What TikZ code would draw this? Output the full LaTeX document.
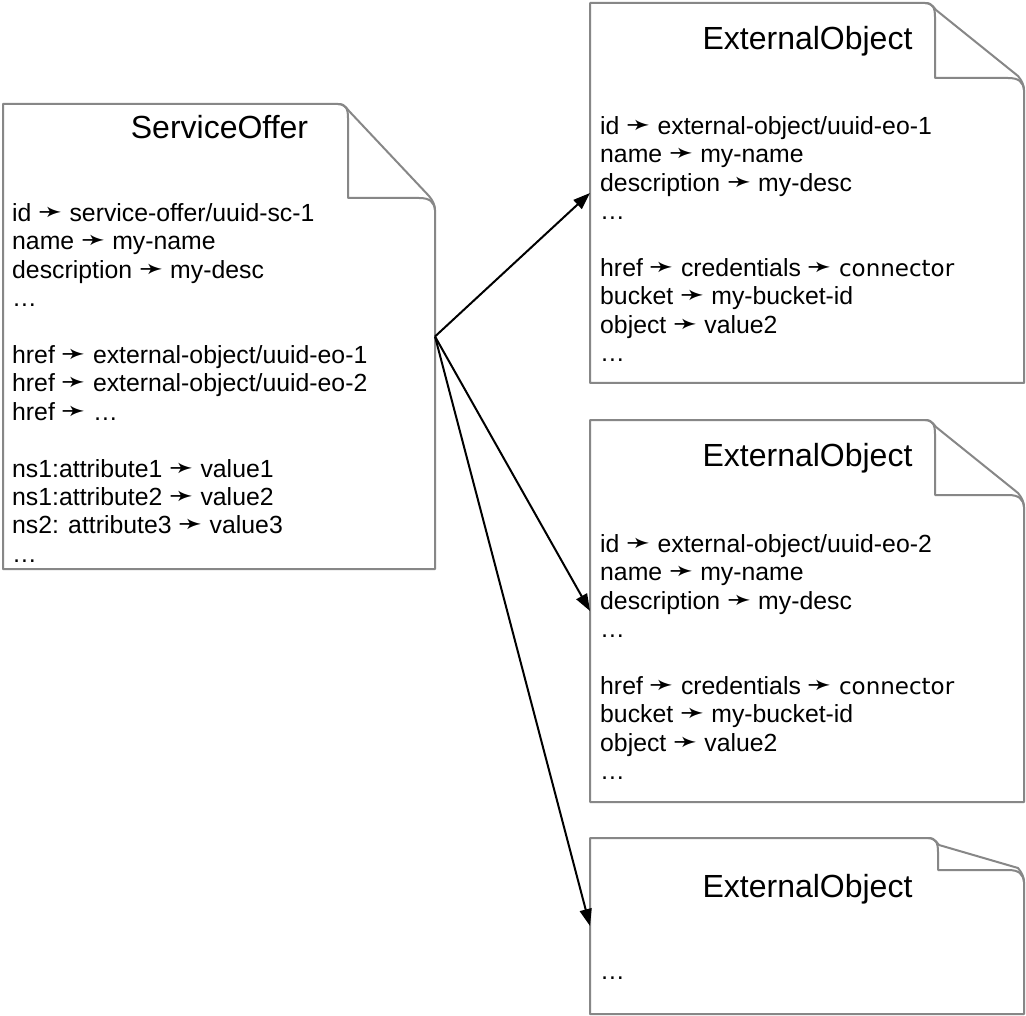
\documentclass[tikz,border=0pt]{standalone}
\usepackage{fontspec}
\setmainfont{Liberation Sans}
\newfontfamily\dvfont{DejaVu Sans}
\usetikzlibrary{arrows.meta}
\newcommand\myarr{{\dvfont\fontsize{29}{24}\selectfont ➛}}
\newcommand\conn{{\dvfont\fontsize{23}{28}\selectfont connector}}
\newcommand\docshape[7]{%
  \node[docnode, minimum width={(#4-#2)*1pt}, minimum height={(#5-#3)*1pt}] (#1) at ({(#2+#4)/2},{(#3+#5)/2}) {};
  \pgfmathsetmacro\dfx{#4-#6}%
  \pgfmathsetmacro\dfy{#3+#7}%
  \draw[docline] (#2,#5) -- (#2,#3) -- (\dfx,#3)
    .. controls (\dfx+5,#3) and (\dfx+8,#3+3) .. (\dfx+11,#3+7)
    -- (#4-6,\dfy-14)
    .. controls (#4-2,\dfy-9) and (#4,\dfy-5) .. (#4,\dfy)
    -- (#4,#5) -- cycle;
  \draw[docline] (\dfx,#3)
    .. controls (\dfx+8,#3) and (\dfx+10,#3+5) .. (\dfx+10,#3+14)
    -- (\dfx+10,\dfy-12) -- (#4-16,\dfy-12)
    .. controls (#4-5,\dfy-12) and (#4-1,\dfy-8) .. (#4,\dfy);
}
\tikzset{
  docnode/.style={inner sep=0pt, outer sep=0pt, draw=none},
  docline/.style={draw=black!47, line width=2pt, line join=round},
  body/.style={anchor=base west, inner sep=0pt, font=\fontsize{24.8}{28.4}\selectfont},
  title/.style={anchor=base, inner sep=0pt, font=\fontsize{32}{36}\selectfont},
  link/.style={line width=2pt, -{Triangle[length=17pt,width=12pt]}}
}
\begin{document}
\begin{tikzpicture}[x=1pt,y=-1pt]
\useasboundingbox (0,0) rectangle (1026,1016);
\fill[white] (0,0) rectangle (1026,1016);

\docshape{so}{3}{104}{435}{569}{97}{106}
\docshape{eoa}{590}{3}{1024}{383}{99}{87}
\docshape{eob}{590}{420}{1024}{802}{99}{87}
\docshape{eoc}{590}{838}{1024}{1014}{96}{44}

% ServiceOffer
\node[title] (so-t) at (219.5,138.5) {ServiceOffer};
\node[body] (so-1) at (12,221.5) {id \myarr{} service-offer/uuid-sc-1};
\node[body] (so-2) at (12,249.9) {name \myarr{} my-name};
\node[body] (so-3) at (12,278.3) {description \myarr{} my-desc};
\node[body] (so-4) at (12,306.7) {…};
\node[body] (so-5) at (12,363.5) {href \myarr{} external-object/uuid-eo-1};
\node[body] (so-6) at (12,391.9) {href \myarr{} external-object/uuid-eo-2};
\node[body] (so-7) at (12,420.3) {href \myarr{} …};
\node[body] (so-8) at (12,477.1) {ns1:attribute1 \myarr{} value1};
\node[body] (so-9) at (12,505.5) {ns1:attribute2 \myarr{} value2};
\node[body] (so-10) at (12,533.9) {ns2: attribute3 \myarr{} value3};
\node[body] (so-11) at (12,562.3) {…};

% ExternalObject 1
\node[title] (eoa-t) at (807.5,49.5) {ExternalObject};
\node[body] (eoa-1) at (600,134.3) {id \myarr{} external-object/uuid-eo-1};
\node[body] (eoa-2) at (600,162.7) {name \myarr{} my-name};
\node[body] (eoa-3) at (600,191.1) {description \myarr{} my-desc};
\node[body] (eoa-4) at (600,219.5) {…};
\node[body] (eoa-5) at (600,276.3) {href \myarr{} credentials \myarr{} \conn};
\node[body] (eoa-6) at (600,304.7) {bucket \myarr{} my-bucket-id};
\node[body] (eoa-7) at (600,333.1) {object \myarr{} value2};
\node[body] (eoa-8) at (600,361.5) {…};

% ExternalObject 2
\node[title] (eob-t) at (807.5,466.5) {ExternalObject};
\node[body] (eob-1) at (600,552.3) {id \myarr{} external-object/uuid-eo-2};
\node[body] (eob-2) at (600,580.7) {name \myarr{} my-name};
\node[body] (eob-3) at (600,609.1) {description \myarr{} my-desc};
\node[body] (eob-4) at (600,637.5) {…};
\node[body] (eob-5) at (600,694.3) {href \myarr{} credentials \myarr{} \conn};
\node[body] (eob-6) at (600,722.7) {bucket \myarr{} my-bucket-id};
\node[body] (eob-7) at (600,751.1) {object \myarr{} value2};
\node[body] (eob-8) at (600,779.5) {…};

% ExternalObject 3
\node[title] (eoc-t) at (807.5,897.5) {ExternalObject};
\node[body] (eoc-1) at (600,979) {…};

% connectors
\draw[link] (so.east) -- (eoa.west);
\draw[link] (so.east) -- (eob.west);
\draw[link] (so.east) -- (eoc.west);
\end{tikzpicture}
\end{document}
